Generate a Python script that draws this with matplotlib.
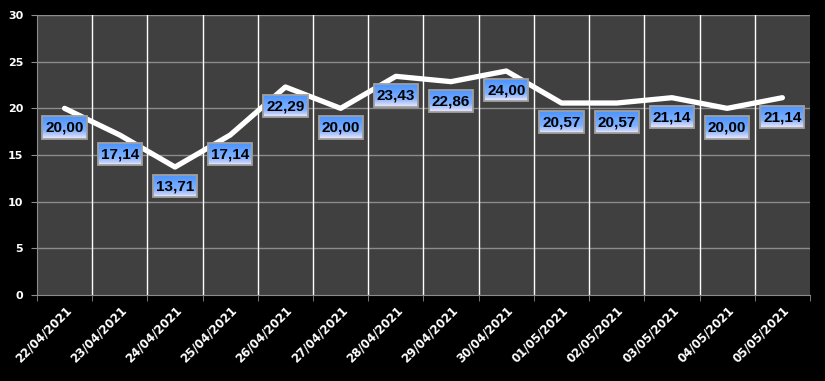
import numpy as np
import matplotlib
matplotlib.use("Agg")
import matplotlib.pyplot as plt
from matplotlib.patches import Rectangle

dates = ["22/04/2021", "23/04/2021", "24/04/2021", "25/04/2021", "26/04/2021",
         "27/04/2021", "28/04/2021", "29/04/2021", "30/04/2021", "01/05/2021",
         "02/05/2021", "03/05/2021", "04/05/2021", "05/05/2021"]
values = [20.00, 17.14, 13.71, 17.14, 22.29, 20.00, 23.43, 22.86, 24.00,
          20.57, 20.57, 21.14, 20.00, 21.14]
y_ticks = [0, 5, 10, 15, 20, 25, 30]

fig = plt.figure(figsize=(8.25, 3.81), dpi=100, facecolor="black")
ax = fig.add_axes([0.0448, 0.2257, 0.9370, 0.7349])
ax.set_facecolor("#404040")

x = np.arange(len(dates))

# grid: horizontal gray, vertical white at category boundaries
for t in y_ticks[1:]:
    ax.axhline(t, color="#8c8c8c", lw=1, zorder=1)
for b in np.arange(0.5, len(dates) - 0.5, 1):
    ax.axvline(b, color="white", lw=1, zorder=1)

ax.plot(x, values, color="white", lw=3.8, solid_capstyle="round",
        solid_joinstyle="round", zorder=3)

# gradient data label boxes, built from thin horizontal bands
cmap = matplotlib.colors.LinearSegmentedColormap.from_list(
    "lbl", [(0, "#4d94ff"), (0.65, "#7db0ff"), (1, "#eee6f8")])
bw, bh, off = 0.8, 2.4, 2.05
n_bands = 24
for xi, v in zip(x, values):
    cy = v - off
    top = cy + bh / 2
    for k in range(n_bands):
        ax.add_patch(Rectangle((xi - bw / 2, top - (k + 1) * bh / n_bands), bw,
                               bh / n_bands * 1.05, fc=cmap(k / (n_bands - 1)),
                               ec="none", lw=0, zorder=4))
    ax.add_patch(Rectangle((xi - bw / 2, cy - bh / 2), bw, bh, fill=False,
                           ec="#a0a0a0", lw=1.3, zorder=5))
    ax.text(xi, cy - 0.05, f"{v:.2f}".replace(".", ","), ha="center", va="center",
            fontsize=11, fontweight="bold", family="Liberation Sans",
            color="black", zorder=6)

ax.set_xlim(-0.5, len(dates) - 0.5)
ax.set_ylim(0, 30)

ax.set_yticks(y_ticks)
ax.set_yticklabels([str(t) for t in y_ticks], color="white", fontsize=8, fontweight="bold")
ax.tick_params(axis="y", length=4, color="#8c8c8c", pad=6)
ax.set_xticks(x)
ax.set_xticklabels(dates, rotation=45, ha="right", rotation_mode="anchor",
                   color="white", fontsize=8.5, fontweight="bold")
ax.tick_params(axis="x", length=0, pad=6)
ax.set_xticks(np.arange(-0.5, len(dates), 1), minor=True)
ax.tick_params(axis="x", which="minor", length=4, color="#8c8c8c")

for side in ["top", "right"]:
    ax.spines[side].set_visible(False)
ax.spines["left"].set_color("#8c8c8c")
ax.spines["bottom"].set_color("#8c8c8c")

fig.savefig("out.png", dpi=100, facecolor="black")
